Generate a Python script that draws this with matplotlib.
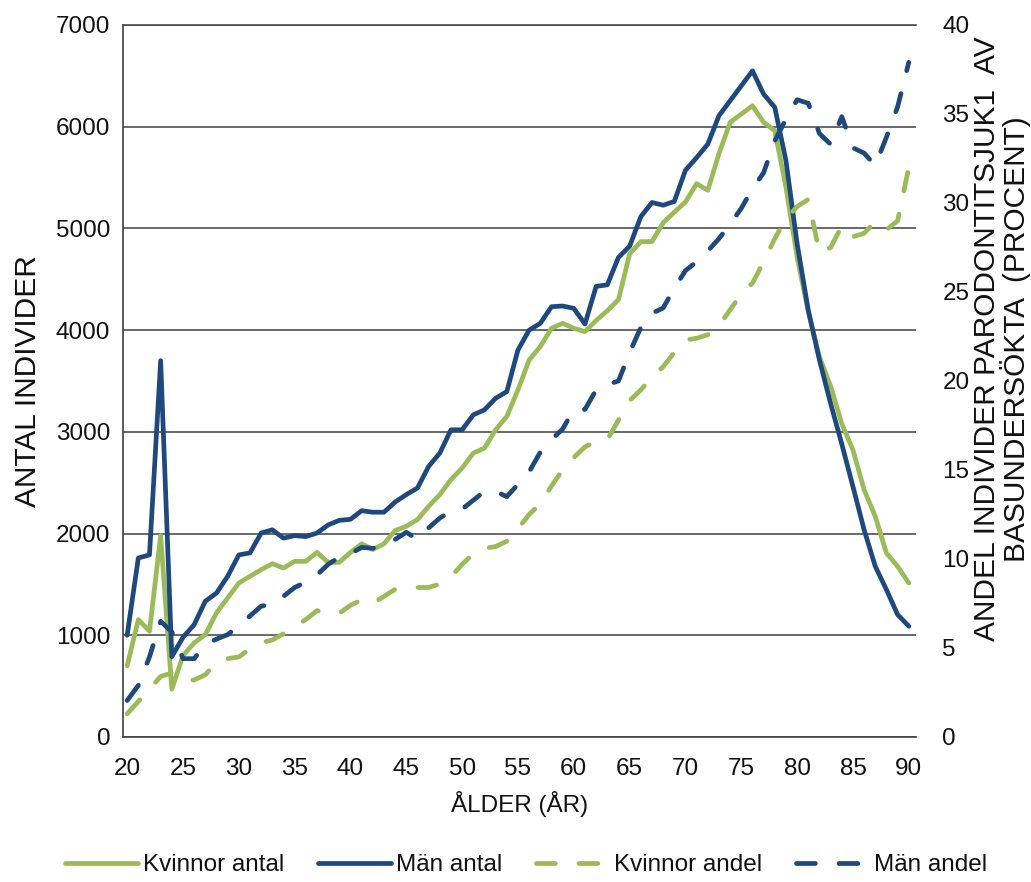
import matplotlib
matplotlib.use('Agg')
import matplotlib.pyplot as plt

ages = list(range(20, 91))

kvinnor_antal = [700, 1154, 1040, 1980, 470, 800, 925, 1007, 1220, 1367,
                 1514, 1580, 1645, 1704, 1661, 1727, 1727, 1815, 1717, 1717,
                 1815, 1900, 1843, 1900, 2030, 2072, 2137, 2268, 2383, 2530,
                 2644, 2791, 2840, 3020, 3151, 3413, 3707, 3838, 4018, 4067,
                 4018, 3985, 4095, 4190, 4300, 4750, 4870, 4870, 5055, 5160,
                 5260, 5440, 5375, 5735, 6043, 6124, 6206, 6043, 5961, 5405,
                 4718, 4180, 3737, 3450, 3080, 2822, 2430, 2168, 1808, 1677,
                 1514]

man_antal = [1000, 1760, 1790, 3700, 790, 980, 1105, 1335, 1415, 1580,
             1790, 1810, 2005, 2037, 1955, 1980, 1970, 2005, 2085, 2130,
             2140, 2225, 2210, 2210, 2310, 2383, 2448, 2660, 2791, 3020,
             3020, 3167, 3216, 3330, 3396, 3805, 4000, 4067, 4230, 4237,
             4214, 4060, 4430, 4445, 4715, 4825, 5115, 5255, 5228, 5265,
             5572, 5696, 5828, 6108, 6255, 6402, 6549, 6320, 6190, 5666,
             4849, 4195, 3705, 3279, 2880, 2462, 2037, 1677, 1448, 1203,
             1089]

kvinnor_andel = [1.3, 2.0, 2.7, 3.4, 3.6, 3.2, 3.2, 3.5, 4.2, 4.4,
                 4.5, 4.95, 5.3, 5.45, 5.8, 6.2, 6.6, 7.1, 6.95, 6.95,
                 7.4, 7.7, 7.5, 7.9, 8.3, 8.4, 8.4, 8.4, 8.6, 9.0,
                 9.7, 10.3, 10.6, 10.7, 11.0, 11.7, 12.5, 13.1, 14.1, 15.0,
                 15.7, 16.3, 16.6, 16.7, 17.8, 18.9, 19.5, 20.2, 20.8, 21.6,
                 22.3, 22.4, 22.6, 23.1, 24.0, 24.9, 25.5, 26.7, 28.0, 29.1,
                 29.8, 30.2, 27.2, 27.5, 28.7, 28.1, 28.3, 28.95, 28.5, 29.0,
                 32.0]

man_andel = [2.05, 2.9, 4.5, 6.5, 5.9, 4.4, 4.4, 5.2, 5.5, 5.75,
             6.25, 6.8, 7.35, 7.45, 7.9, 8.4, 8.7, 9.1, 9.7, 10.1,
             10.3, 10.65, 10.6, 10.8, 11.1, 11.5, 11.1, 11.75, 12.3, 12.7,
             12.8, 13.3, 13.8, 13.8, 13.5, 14.2, 14.9, 16.0, 16.7, 17.3,
             18.4, 18.4, 19.5, 19.8, 20.0, 21.6, 23.0, 23.8, 24.1, 25.2,
             26.2, 26.7, 27.3, 28.0, 28.8, 29.7, 30.8, 31.7, 33.5, 34.7,
             35.8, 35.6, 33.9, 33.3, 34.85, 33.1, 32.8, 32.1, 33.7, 35.4,
             37.9]

x_ticks = list(range(20, 91, 5))
left_ticks = list(range(0, 7001, 1000))
right_ticks = list(range(0, 41, 5))

series_labels = ['Kvinnor antal', 'Män antal', 'Kvinnor andel', 'Män andel']
xlabel = 'ÅLDER (ÅR)'
ylabel_left = 'ANTAL INDIVIDER'
ylabel_right = 'ANDEL INDIVIDER PARODONTITSJUK1  AV\nBASUNDERSÖKTA  (PROCENT)'

GREEN = '#9BBB59'
BLUE = '#1F497D'
GRID = '#404040'
TXT = '#111111'
FS = 17.5
FS_ROT = 21.5

plt.rcParams['font.family'] = ['Liberation Sans', 'DejaVu Sans']

fig = plt.figure(figsize=(10.31, 8.82), dpi=100)
ax = fig.add_axes([0.119, 0.1644, 0.7695, 0.8073])
ax2 = ax.twinx()

lw = 3.4
dash = (0, (4.0, 5.0))
l1, = ax.plot(ages, kvinnor_antal, color=GREEN, lw=lw,
              solid_joinstyle='round', solid_capstyle='round', zorder=3)
l2, = ax.plot(ages, man_antal, color=BLUE, lw=lw,
              solid_joinstyle='round', solid_capstyle='round', zorder=3)
l3, = ax2.plot(ages, kvinnor_andel, color=GREEN, lw=lw, linestyle=dash,
               dash_capstyle='round', dash_joinstyle='round', zorder=3)
l4, = ax2.plot(ages, man_andel, color=BLUE, lw=lw, linestyle=dash,
               dash_capstyle='round', dash_joinstyle='round', zorder=3)

ax.set_xlim(19.6, 90.65)
ax.set_ylim(0, 7000)
ax2.set_ylim(0, 40)
ax.set_xticks(x_ticks)
ax.set_yticks(left_ticks)
ax2.set_yticks(right_ticks)

ax.grid(axis='y', color=GRID, lw=1.1)
ax.grid(axis='x', visible=False)
ax.set_axisbelow(True)

ax.spines['right'].set_visible(False)
ax.spines['top'].set_color(GRID)
ax.spines['top'].set_linewidth(1.1)
for s in ['left', 'bottom']:
    ax.spines[s].set_color(GRID)
    ax.spines[s].set_linewidth(1.2)
for s in ax2.spines.values():
    s.set_visible(False)
ax2.patch.set_visible(False)

ax.tick_params(axis='x', length=0, pad=15, labelsize=FS, labelcolor=TXT)
ax.tick_params(axis='y', length=0, pad=9, labelsize=FS, labelcolor=TXT)
ax2.tick_params(axis='y', length=0, pad=19, labelsize=FS, labelcolor=TXT)

ax.set_xlabel(xlabel, fontsize=FS, color=TXT, labelpad=8)
fig.text(28 / 1031, 1 - 381 / 882, ylabel_left, rotation=90, ha='center',
         va='center', fontsize=FS_ROT, color=TXT)
fig.text(1002 / 1031, 1 - 339 / 882, ylabel_right, rotation=90, ha='center',
         va='center', fontsize=FS_ROT, color=TXT, multialignment='center',
         linespacing=0.95)

fig.legend([l1, l2, l3, l4], series_labels, loc='center',
           bbox_to_anchor=(0.510, 1 - 865 / 882), ncol=4, frameon=False,
           handlelength=3, handletextpad=0.2, columnspacing=1.4, fontsize=FS,
           labelcolor=TXT)

fig.savefig('out.png', dpi=100)
